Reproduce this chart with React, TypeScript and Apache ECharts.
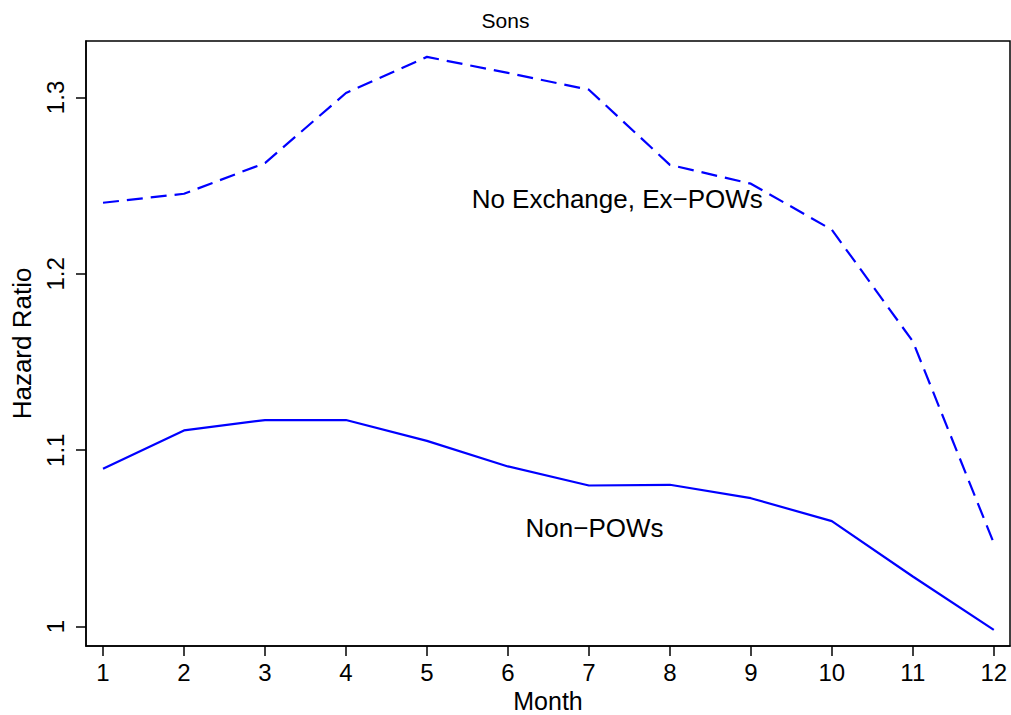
import React, { useEffect, useRef } from "react";
import * as echarts from "echarts";

const months = [1, 2, 3, 4, 5, 6, 7, 8, 9, 10, 11, 12];
const exPowValues = [1.2403, 1.2454, 1.2628, 1.3025, 1.323, 1.3139, 1.3044, 1.2618, 1.2511, 1.225, 1.1617, 1.0473];
const nonPowValues = [1.0895, 1.1112, 1.1171, 1.1171, 1.1053, 1.0908, 1.08, 1.0804, 1.0728, 1.0598, 1.0284, 0.9981];
const yTicks = [1, 1.1, 1.2, 1.3];
const annLabels = ["No Exchange, Ex\u2212POWs", "Non\u2212POWs"];
const annX = [7.35, 7.07];
const annY = [1.2426, 1.056];

const FONT = "'Liberation Sans', Arial, Helvetica, sans-serif";

export default function App() {
  const ref = useRef<HTMLDivElement>(null);
  useEffect(() => {
    if (!ref.current) return;
    const chart = echarts.init(ref.current, null, { renderer: "svg" });
    const option: any = {
      animation: false,
      backgroundColor: "#ffffff",
      title: {
        text: "Sons",
        left: "center",
        top: 10,
        padding: 0,
        textStyle: { fontFamily: FONT, fontSize: 21, fontWeight: "normal", color: "#000" },
      },
      grid: {
        left: 86,
        right: 1,
        top: 41,
        bottom: 69,
        show: true,
        borderColor: "#000",
        borderWidth: 1.5,
        containLabel: false,
        outerBoundsMode: "none",
      },
      xAxis: {
        type: "value",
        min: 0.79,
        max: 12.2,
        name: "Month",
        nameLocation: "middle",
        nameGap: 41,
        nameTextStyle: { fontFamily: FONT, fontSize: 25, lineHeight: 24, color: "#000" },
        axisLine: { show: true, onZero: false, lineStyle: { color: "#000", width: 1.5 } },
        axisTick: { show: true, inside: false, length: 10, customValues: months, lineStyle: { color: "#000", width: 1.5 } },
        axisLabel: { show: true, margin: 14, customValues: months, fontFamily: FONT, fontSize: 24, color: "#000" },
        splitLine: { show: false },
      },
      yAxis: {
        type: "value",
        min: 0.989,
        max: 1.332,
        name: "Hazard Ratio",
        nameLocation: "middle",
        nameGap: 48,
        nameTextStyle: { fontFamily: FONT, fontSize: 26, color: "#000" },
        axisLine: { show: true, onZero: false, lineStyle: { color: "#000", width: 1.5 } },
        axisTick: { show: true, inside: false, length: 10, customValues: yTicks, lineStyle: { color: "#000", width: 1.5 } },
        axisLabel: { show: true, margin: 19, rotate: 90, customValues: yTicks, fontFamily: FONT, fontSize: 24, color: "#000" },
        splitLine: { show: false },
      },
      series: [
        {
          name: "No Exchange, Ex-POWs",
          type: "line",
          data: months.map((m, i) => [m, exPowValues[i]]),
          showSymbol: false,
          symbol: "none",
          lineStyle: { color: "#0000ff", width: 2.2, type: [16, 8] },
        },
        {
          name: "Non-POWs",
          type: "line",
          data: months.map((m, i) => [m, nonPowValues[i]]),
          showSymbol: false,
          symbol: "none",
          lineStyle: { color: "#0000ff", width: 2.2, type: "solid" },
        },
        {
          name: "annotations",
          type: "scatter",
          symbolSize: 1,
          itemStyle: { color: "#ffffff", opacity: 1 },
          data: annLabels.map((t, i) => ({ value: [annX[i], annY[i]], name: t })),
          label: {
            show: true,
            position: "inside",
            formatter: (p: any) => p.name,
            fontFamily: FONT,
            fontSize: 26,
            color: "#000000",
            opacity: 1,
            textBorderWidth: 0,
          },
          silent: true,
        },
      ],
    };
    chart.setOption(option);
    return () => chart.dispose();
  }, []);
  return (
    <div
      ref={ref}
      style={{ position: "fixed", left: 0, top: 0, width: 1011, height: 715, background: "#fff" }}
    />
  );
}
